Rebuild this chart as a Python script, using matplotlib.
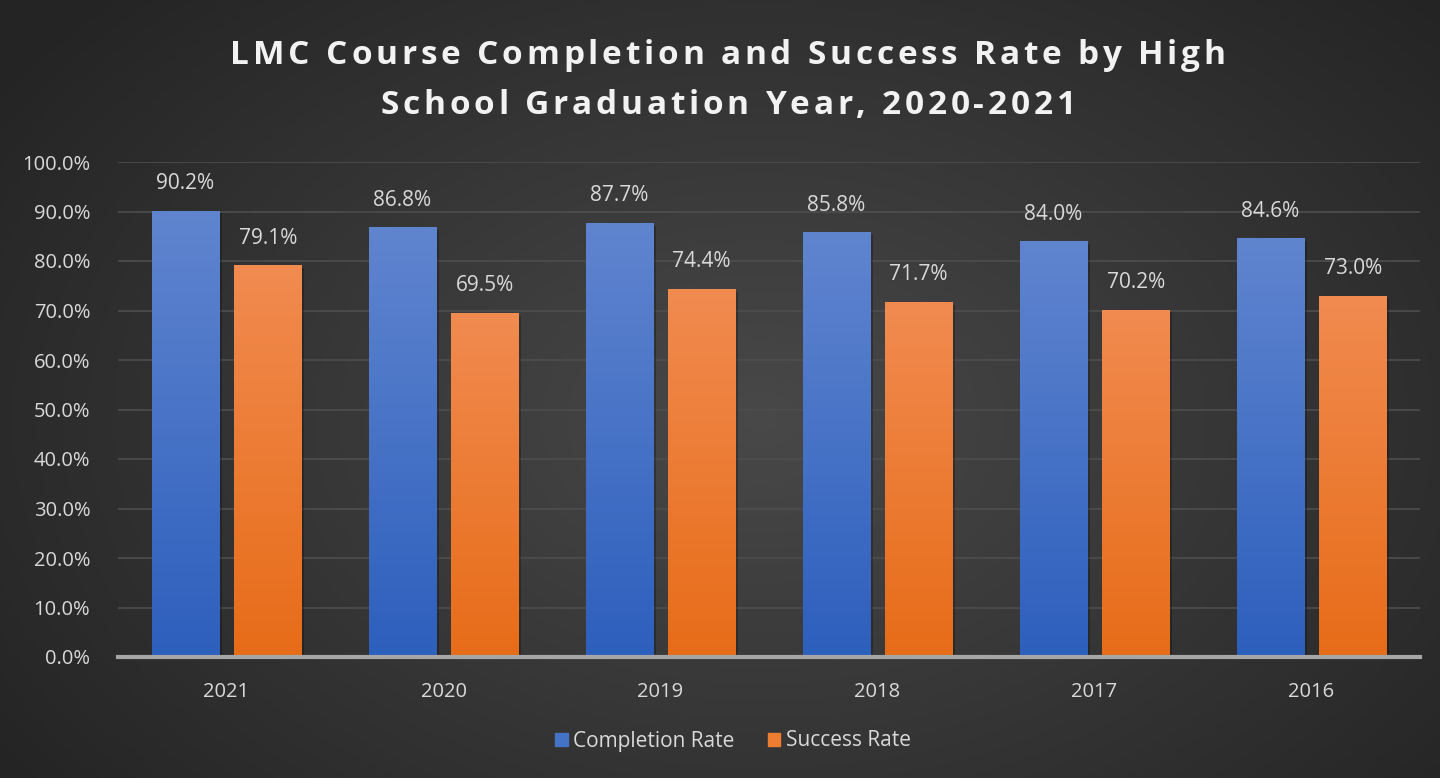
import numpy as np
import matplotlib.pyplot as plt
from matplotlib.patches import Rectangle

years = ["2021", "2020", "2019", "2018", "2017", "2016"]
completion = [90.2, 86.8, 87.7, 85.8, 84.0, 84.6]
success = [79.1, 69.5, 74.4, 71.7, 70.2, 73.0]

title_lines = ["LMC Course Completion and Success Rate by High",
               "School Graduation Year, 2020-2021"]
txt = "#d9d9d9"

fig = plt.figure(figsize=(14.4, 7.78), dpi=100)

## radial background
bg = fig.add_axes([0, 0, 1, 1])
yy, xx = np.mgrid[0:778, 0:1440]
r = np.sqrt(((xx - 760) / 900.0) ** 2 + ((yy - 420) / 600.0) ** 2)
r = np.clip(r, 0, 1)
shade = 0.285 - 0.14 * r
img = np.dstack([shade, shade, shade])
bg.imshow(img, aspect="auto", extent=[0, 1, 0, 1], origin="upper")
bg.axis("off")

ax = fig.add_axes([118 / 1440, 1 - 657 / 778, 1302 / 1440, 495 / 778])
ax.set_facecolor("none")

x = np.arange(len(years))
w = 0.31
off = 0.19

def grad_bars(xs, vals, top, bottom):
    c1 = np.array(plt.matplotlib.colors.to_rgb(top))
    c2 = np.array(plt.matplotlib.colors.to_rgb(bottom))
    t = np.linspace(0, 1, 256)[:, None]
    g = (c1 * (1 - t) + c2 * t)[:, None, :]
    for xi, v in zip(xs, vals):
        # shadow
        ax.add_patch(Rectangle((xi - w / 2 + 0.012, 0), w, v - 0.6,
                               facecolor="black", alpha=0.25, lw=0, zorder=2))
        bar = ax.bar(xi, v, width=w, color=bottom, zorder=3)[0]
        im = ax.imshow(g, aspect="auto", extent=[xi - w / 2, xi + w / 2, 0, v],
                       origin="upper", zorder=3)
        im.set_clip_path(bar)
        ax.annotate(f"{v:.1f}%", (xi, v), xytext=(0, 12), textcoords="offset points",
                    ha="center", va="bottom", color=txt, fontsize=15,
                    family="Open Sans", zorder=5)

grad_bars(x - off, completion, "#6085cf", "#2d5fbd")
grad_bars(x + off, success, "#f18b50", "#e76c18")
ax.set_xlim(-0.5, len(years) - 0.5)
ax.set_ylim(0, 100)

ax.set_yticks(np.arange(0, 101, 10))
ax.set_yticklabels([f"{v:.1f}%" for v in np.arange(0, 101, 10)])
ax.set_xticks(x)
ax.set_xticklabels(years)
ax.tick_params(colors=txt, labelsize=14.5, length=0)
ax.tick_params(axis="y", pad=20)
ax.tick_params(axis="x", pad=18)
for lab in ax.get_xticklabels() + ax.get_yticklabels():
    lab.set_family("Open Sans")
ax.grid(axis="y", color="#4e4e4e", lw=1.2, zorder=1)
for s in ["top", "right", "left"]:
    ax.spines[s].set_visible(False)
ax.spines["bottom"].set_color("#a6a6a6")
ax.spines["bottom"].set_linewidth(3)
ax.spines["bottom"].set_zorder(4)

## legend
h1 = Rectangle((0, 0), 1, 1, color="#4472c4")
h2 = Rectangle((0, 0), 1, 1, color="#ed7d31")
leg = fig.legend([h1, h2], ["Completion Rate", "Success Rate"], loc="center",
                 bbox_to_anchor=(733 / 1440, 1 - 741 / 778), ncol=2, frameon=False,
                 handlelength=0.6, handleheight=0.6, handletextpad=0.25, columnspacing=1.6,
                 prop={"family": "Open Sans", "size": 15})
for t in leg.get_texts():
    t.set_color(txt)

## title with letter spacing, drawn char by char
renderer = fig.canvas.get_renderer()
def spaced_text(s, cx, cy, size, spacing):
    widths = []
    for ch in s:
        if ch == " ":
            probe = fig.text(0, 0, "a a", fontsize=size, fontweight="bold", family="Open Sans")
            w_sp = probe.get_window_extent(renderer).width
            probe.remove()
            probe = fig.text(0, 0, "aa", fontsize=size, fontweight="bold", family="Open Sans")
            w_sp -= probe.get_window_extent(renderer).width
            probe.remove()
            widths.append(w_sp)
        else:
            probe = fig.text(0, 0, ch, fontsize=size, fontweight="bold", family="Open Sans")
            widths.append(probe.get_window_extent(renderer).width)
            probe.remove()
    total = sum(widths) + spacing * (len(s) - 1)
    px = cx - total / 2
    for ch, wd in zip(s, widths):
        fig.text(px / 1440, 1 - cy / 778, ch, ha="left", va="center", color="#f2f2f2",
                 fontsize=size, fontweight="bold", family="Open Sans")
        px += wd + spacing

spaced_text(title_lines[0], 728, 55, 24, 3.8)
spaced_text(title_lines[1], 728, 106, 24, 3.8)

fig.savefig("out.png", dpi=100)
